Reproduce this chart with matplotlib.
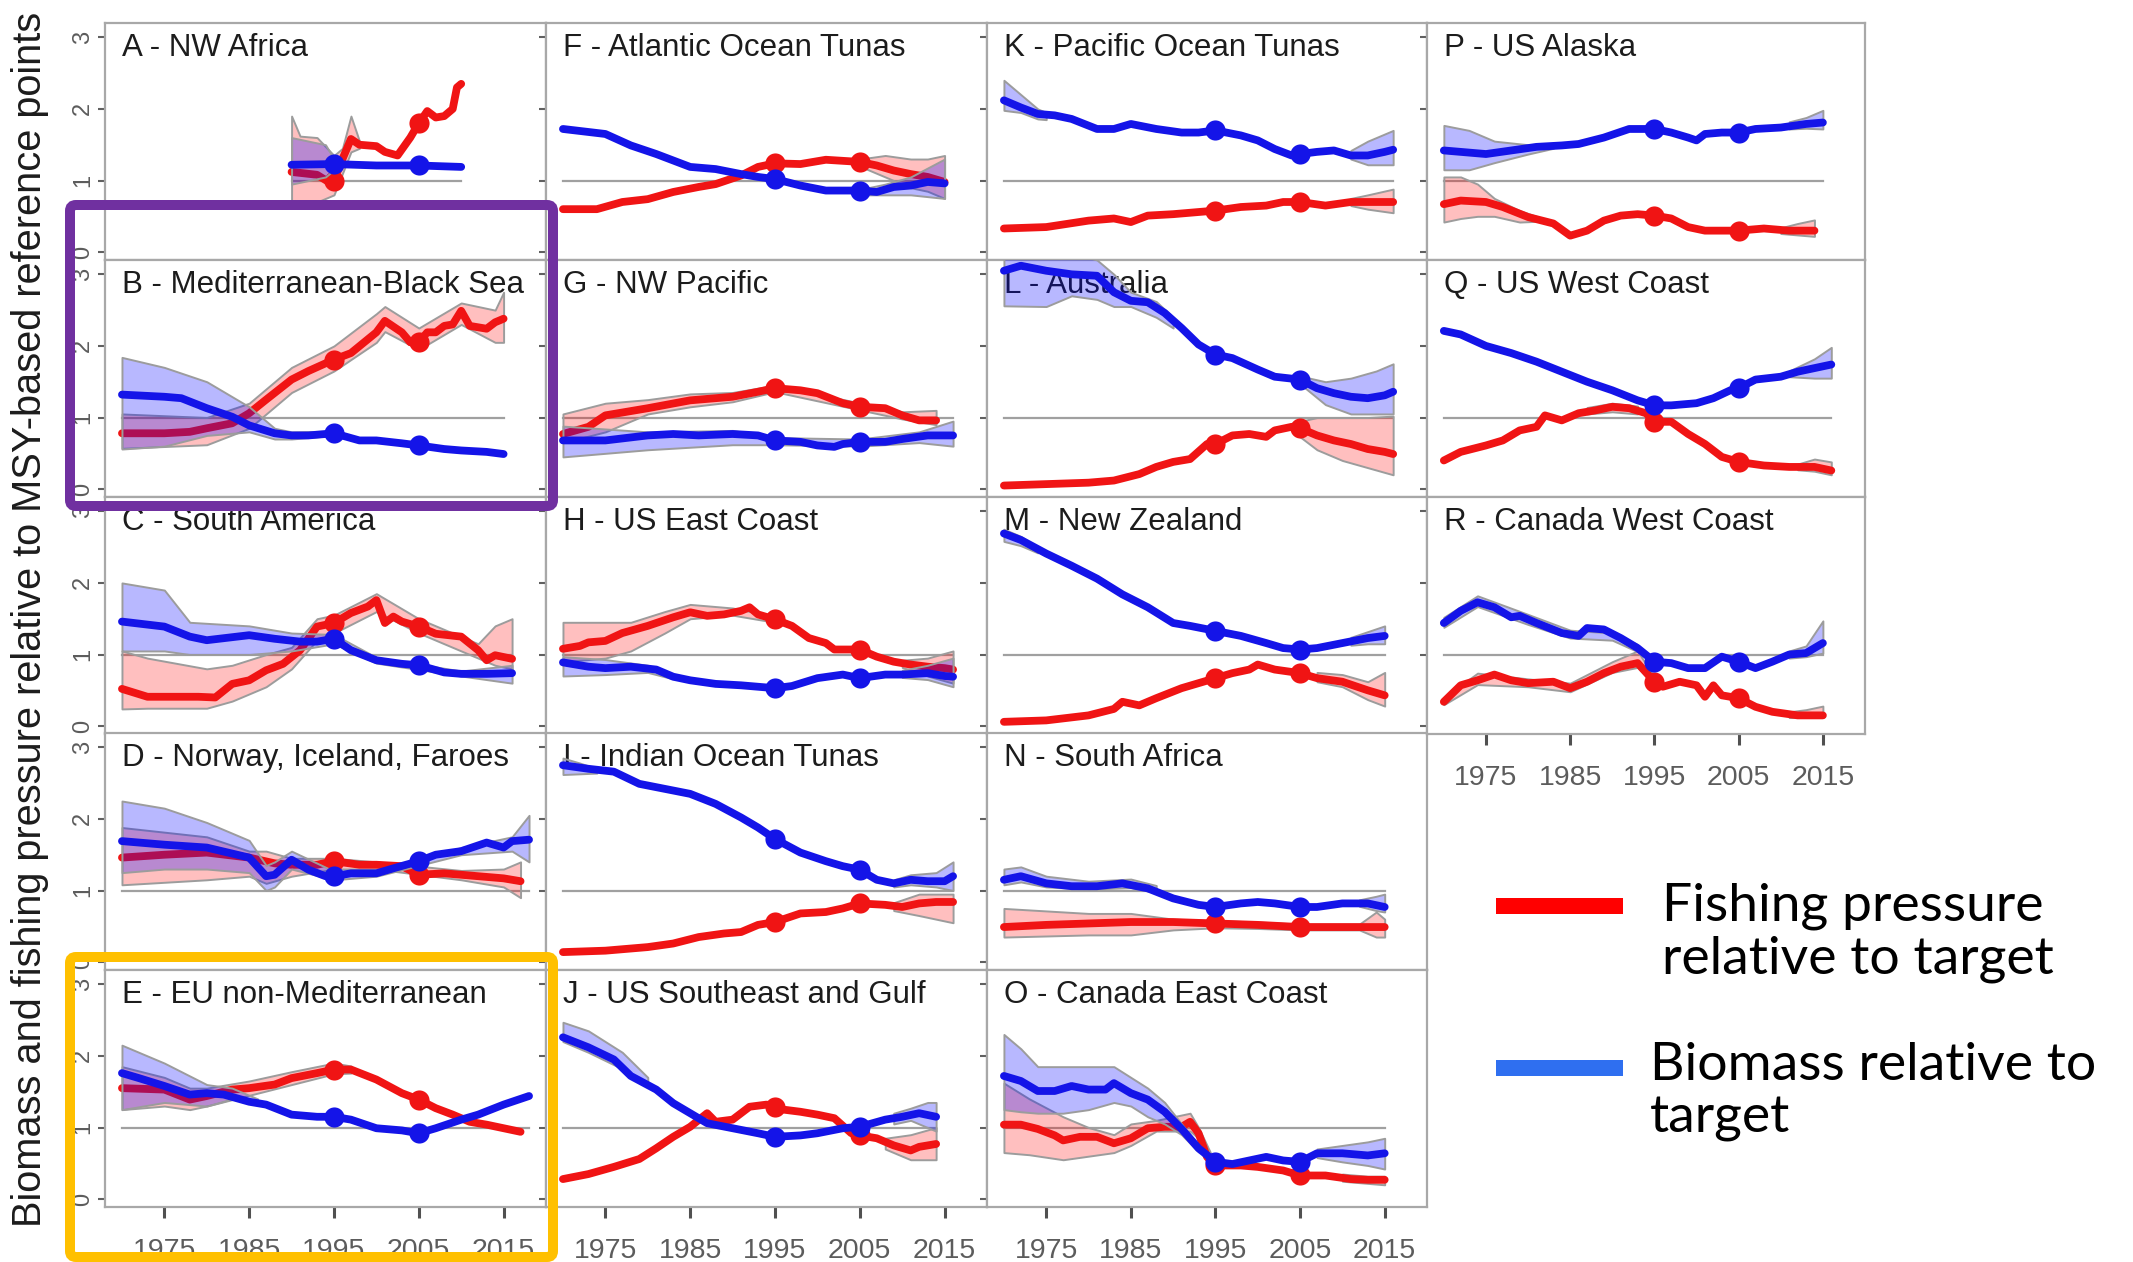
import matplotlib
matplotlib.use("Agg")
import matplotlib.pyplot as plt
from matplotlib.patches import FancyBboxPatch
from matplotlib.lines import Line2D

W, H = 2133, 1262
DPI = 100

RED = "#f01414"
BLUE = "#1414e8"
RED_FILL = (1.0, 0.0, 0.0, 0.25)
BLUE_FILL = (0.0, 0.0, 1.0, 0.28)
BAND_EDGE = "#9c9c9c"
FRAME = "#a8a8a8"
TEXT = "#1c1c1c"
TICK_TEXT = "#5c5c5c"

X_TICKS = [1975, 1985, 1995, 2005, 2015]
X_LABELS = ["1975", "1985", "1995", "2005", "2015"]
Y_TICKS = [0, 1, 2, 3]
Y_LABELS = ["0", "1", "2", "3"]
MARK_YEARS = [1995, 2005]

Y_TITLE = "Biomass and fishing pressure relative to MSY-based reference points"
LEGEND_F = ["Fishing pressure", "relative to target"]
LEGEND_B = ["Biomass relative to", "target"]

# ---- A - NW Africa
A_F_YR = [1990, 1993, 1994.5, 1995, 1996, 1997, 1998, 2000, 2001, 2002.5, 2004, 2005, 2006, 2007, 2008, 2009, 2009.5, 2010]
A_F = [1.12, 1.08, 0.97, 1.0, 1.3, 1.58, 1.5, 1.48, 1.4, 1.35, 1.6, 1.8, 1.97, 1.88, 1.9, 2.0, 2.3, 2.35]
A_B_YR = [1990, 1995, 2000, 2005, 2010]
A_B = [1.22, 1.23, 1.21, 1.21, 1.19]
A_F_CI = [([1990, 1991, 1993, 1995, 1996, 1997, 1998],
           [0.62, 0.65, 0.7, 0.8, 1.1, 1.4, 1.45],
           [1.9, 1.62, 1.6, 1.35, 1.45, 1.9, 1.55])]
A_B_CI = [([1990, 1992, 1994, 1995, 1996],
           [0.95, 1.0, 1.05, 1.15, 1.2],
           [1.6, 1.55, 1.5, 1.3, 1.24])]

# ---- B - Mediterranean-Black Sea
B_F_YR = [1970, 1975, 1978, 1980, 1983, 1985, 1987, 1990, 1992, 1995, 1997, 2000, 2001, 2003, 2004, 2005, 2006, 2007, 2008, 2009, 2010, 2011, 2012, 2013, 2014, 2015]
B_F = [0.78, 0.78, 0.8, 0.85, 0.92, 1.06, 1.25, 1.53, 1.65, 1.81, 1.9, 2.19, 2.35, 2.19, 2.05, 2.05, 2.19, 2.19, 2.28, 2.3, 2.49, 2.28, 2.26, 2.24, 2.33, 2.38]
B_B_YR = [1970, 1975, 1977, 1980, 1983, 1985, 1988, 1990, 1992, 1995, 1998, 2000, 2003, 2005, 2008, 2010, 2013, 2015]
B_B = [1.32, 1.29, 1.27, 1.13, 1.01, 0.89, 0.78, 0.75, 0.75, 0.78, 0.68, 0.68, 0.64, 0.61, 0.56, 0.54, 0.52, 0.49]
B_F_CI = [([1970, 1980, 1985, 1990, 1995, 2000, 2001, 2005, 2010, 2014, 2015],
           [0.57, 0.62, 0.85, 1.35, 1.65, 2.05, 2.2, 1.95, 2.3, 2.05, 2.05],
           [1.05, 1.0, 1.2, 1.7, 2.0, 2.45, 2.55, 2.25, 2.6, 2.5, 2.75])]
B_B_CI = [([1970, 1975, 1980, 1985, 1988, 1990, 1995],
           [0.56, 0.6, 0.75, 0.8, 0.7, 0.7, 0.75],
           [1.84, 1.7, 1.5, 1.15, 0.85, 0.8, 0.81])]

# ---- C - South America
C_F_YR = [1970, 1973, 1976, 1979, 1981, 1983, 1985, 1987, 1989, 1991, 1993, 1995, 1997, 1999, 2000, 2001, 2002, 2003, 2005, 2007, 2010, 2012, 2013, 2014, 2016]
C_F = [0.52, 0.41, 0.41, 0.41, 0.4, 0.59, 0.64, 0.78, 0.87, 1.06, 1.39, 1.44, 1.58, 1.67, 1.76, 1.44, 1.53, 1.46, 1.39, 1.29, 1.25, 1.06, 0.92, 0.99, 0.94]
C_B_YR = [1970, 1975, 1978, 1980, 1985, 1988, 1991, 1993, 1995, 1997, 2000, 2003, 2005, 2008, 2010, 2013, 2016]
C_B = [1.46, 1.39, 1.25, 1.2, 1.27, 1.22, 1.18, 1.18, 1.22, 1.06, 0.92, 0.87, 0.85, 0.75, 0.73, 0.73, 0.74]
C_F_CI = [([1970, 1973, 1980, 1983, 1987, 1990, 1993, 1995, 2000, 2005, 2012, 2014, 2016],
           [0.24, 0.25, 0.25, 0.35, 0.55, 0.8, 1.2, 1.3, 1.6, 1.3, 0.95, 0.85, 0.8],
           [1.05, 0.95, 0.8, 0.85, 1.0, 1.1, 1.5, 1.55, 1.85, 1.5, 1.15, 1.4, 1.5])]
C_B_CI = [([1970, 1975, 1978, 1985, 1990, 1995, 2000, 2010, 2016],
           [1.05, 1.05, 1.0, 1.0, 1.05, 1.15, 0.88, 0.7, 0.6],
           [2.0, 1.9, 1.45, 1.4, 1.3, 1.28, 0.96, 0.77, 0.85])]

# ---- D - Norway, Iceland, Faroes
D_F_YR = [1970, 1975, 1980, 1985, 1988, 1990, 1993, 1995, 1998, 2000, 2003, 2005, 2008, 2012, 2015, 2017]
D_F = [1.46, 1.5, 1.53, 1.46, 1.38, 1.36, 1.36, 1.41, 1.36, 1.36, 1.34, 1.22, 1.24, 1.2, 1.17, 1.13]
D_B_YR = [1970, 1975, 1980, 1985, 1987, 1988, 1990, 1992, 1994, 1995, 1997, 2000, 2002, 2005, 2007, 2010, 2013, 2015, 2016, 2018]
D_B = [1.69, 1.64, 1.6, 1.46, 1.2, 1.22, 1.43, 1.29, 1.2, 1.2, 1.24, 1.24, 1.31, 1.41, 1.5, 1.55, 1.67, 1.6, 1.69, 1.71]
D_F_CI = [([1970, 1980, 1985, 1987, 1990, 1995, 2000, 2010, 2015, 2017],
           [1.08, 1.15, 1.2, 1.1, 1.2, 1.3, 1.3, 1.15, 1.05, 0.9],
           [1.88, 1.75, 1.55, 1.55, 1.45, 1.45, 1.4, 1.28, 1.3, 1.4])]
D_B_CI = [([1970, 1975, 1980, 1985, 1987, 1988, 1990, 1995, 2000, 2010, 2016, 2018],
           [1.25, 1.3, 1.3, 1.25, 1.0, 1.05, 1.3, 1.15, 1.2, 1.5, 1.55, 1.4],
           [2.25, 2.15, 1.95, 1.7, 1.35, 1.4, 1.55, 1.27, 1.28, 1.6, 1.75, 2.05])]

# ---- E - EU non-Mediterranean
E_F_YR = [1970, 1975, 1978, 1980, 1983, 1985, 1988, 1990, 1993, 1995, 1997, 2000, 2003, 2005, 2007, 2009, 2011, 2013, 2015, 2017]
E_F = [1.55, 1.53, 1.39, 1.44, 1.53, 1.55, 1.6, 1.69, 1.76, 1.81, 1.81, 1.67, 1.48, 1.39, 1.27, 1.18, 1.08, 1.04, 0.99, 0.94]
E_B_YR = [1970, 1972, 1975, 1978, 1980, 1982, 1985, 1987, 1990, 1993, 1995, 1997, 2000, 2003, 2005, 2007, 2010, 2012, 2015, 2018]
E_B = [1.76, 1.69, 1.58, 1.46, 1.48, 1.46, 1.36, 1.32, 1.18, 1.15, 1.15, 1.11, 0.99, 0.96, 0.92, 0.99, 1.11, 1.18, 1.32, 1.44]
E_F_CI = [([1970, 1975, 1978, 1980, 1985, 1990, 1995, 1997],
           [1.25, 1.3, 1.25, 1.3, 1.45, 1.6, 1.75, 1.76],
           [1.85, 1.7, 1.55, 1.55, 1.65, 1.78, 1.9, 1.86])]
E_B_CI = [([1970, 1975, 1980, 1983, 1986],
           [1.25, 1.35, 1.3, 1.4, 1.32],
           [2.15, 1.9, 1.6, 1.55, 1.4])]

# ---- F - Atlantic Ocean Tunas
F_F_YR = [1970, 1974, 1977, 1980, 1983, 1986, 1988, 1991, 1993, 1995, 1998, 2001, 2005, 2007, 2009, 2011, 2013, 2015]
F_F = [0.6, 0.6, 0.7, 0.74, 0.84, 0.91, 0.95, 1.07, 1.19, 1.24, 1.23, 1.29, 1.26, 1.21, 1.14, 1.09, 1.05, 0.98]
F_B_YR = [1970, 1975, 1978, 1981, 1985, 1988, 1991, 1993, 1995, 1998, 2001, 2003, 2005, 2007, 2009, 2011, 2013, 2015]
F_B = [1.72, 1.65, 1.49, 1.37, 1.19, 1.16, 1.09, 1.05, 1.02, 0.93, 0.86, 0.86, 0.86, 0.84, 0.91, 0.93, 0.98, 0.96]
F_F_CI = [([2005, 2008, 2011, 2013, 2015],
           [1.2, 1.05, 0.9, 0.85, 0.75],
           [1.3, 1.35, 1.3, 1.3, 1.35])]
F_B_CI = [([2006, 2008, 2011, 2015],
           [0.8, 0.8, 0.8, 0.75],
           [0.9, 0.95, 1.05, 1.3])]

# ---- G - NW Pacific
G_F_YR = [1970, 1973, 1975, 1980, 1985, 1990, 1993, 1995, 1998, 2000, 2003, 2005, 2008, 2010, 2012, 2014]
G_F = [0.77, 0.87, 1.03, 1.13, 1.24, 1.29, 1.36, 1.41, 1.38, 1.34, 1.2, 1.15, 1.13, 1.03, 0.96, 0.96]
G_B_YR = [1970, 1975, 1980, 1983, 1986, 1990, 1993, 1995, 1998, 2000, 2002, 2003, 2005, 2008, 2010, 2013, 2016]
G_B = [0.68, 0.68, 0.75, 0.77, 0.75, 0.77, 0.75, 0.68, 0.66, 0.61, 0.59, 0.63, 0.66, 0.66, 0.7, 0.75, 0.75]
G_F_CI = [([1970, 1975, 1980, 1985, 1990, 1995, 2010, 2014],
           [0.65, 0.8, 1.05, 1.15, 1.22, 1.36, 0.98, 0.9],
           [1.05, 1.2, 1.25, 1.33, 1.35, 1.45, 1.08, 1.1])]
G_B_CI = [([1970, 1980, 1990, 1995, 2005, 2012, 2016],
           [0.45, 0.55, 0.62, 0.62, 0.6, 0.65, 0.6],
           [0.88, 0.8, 0.82, 0.72, 0.7, 0.8, 0.95])]

# ---- H - US East Coast
H_F_YR = [1970, 1972, 1973, 1975, 1977, 1980, 1983, 1985, 1987, 1989, 1991, 1992, 1993, 1995, 1997, 1999, 2001, 2002, 2004, 2005, 2007, 2009, 2011, 2013, 2015, 2016]
H_F = [1.08, 1.12, 1.17, 1.19, 1.3, 1.4, 1.52, 1.59, 1.54, 1.56, 1.61, 1.66, 1.56, 1.49, 1.4, 1.23, 1.16, 1.07, 1.07, 1.07, 0.97, 0.9, 0.86, 0.83, 0.81, 0.79]
H_B_YR = [1970, 1973, 1975, 1978, 1981, 1983, 1985, 1988, 1991, 1993, 1995, 1997, 2000, 2003, 2005, 2008, 2010, 2013, 2015, 2016]
H_B = [0.89, 0.83, 0.81, 0.83, 0.79, 0.69, 0.64, 0.59, 0.57, 0.55, 0.53, 0.56, 0.67, 0.72, 0.67, 0.72, 0.72, 0.74, 0.7, 0.69]
H_F_CI = [([1970, 1975, 1978, 1982, 1985, 1990, 1995],
           [0.9, 0.95, 1.05, 1.3, 1.5, 1.55, 1.45],
           [1.45, 1.45, 1.45, 1.6, 1.7, 1.65, 1.53]),
          ([2010, 2013, 2016],
           [0.82, 0.7, 0.6],
           [0.92, 0.95, 1.05])]
H_B_CI = [([1970, 1975, 1980, 1983],
           [0.7, 0.72, 0.75, 0.66],
           [0.97, 0.93, 0.85, 0.72]),
          ([2010, 2013, 2016],
           [0.68, 0.65, 0.55],
           [0.78, 0.85, 0.95])]

# ---- I - Indian Ocean Tunas
I_F_YR = [1970, 1975, 1980, 1983, 1986, 1989, 1991, 1993, 1995, 1998, 2001, 2003, 2005, 2008, 2010, 2012, 2014, 2016]
I_F = [0.14, 0.16, 0.21, 0.26, 0.35, 0.4, 0.42, 0.52, 0.56, 0.68, 0.7, 0.75, 0.82, 0.8, 0.77, 0.82, 0.84, 0.84]
I_B_YR = [1970, 1973, 1976, 1979, 1982, 1985, 1988, 1991, 1993, 1995, 1998, 2001, 2003, 2005, 2007, 2009, 2011, 2013, 2015, 2016]
I_B = [2.75, 2.7, 2.66, 2.49, 2.42, 2.35, 2.21, 2.02, 1.88, 1.72, 1.53, 1.41, 1.34, 1.29, 1.15, 1.1, 1.15, 1.13, 1.13, 1.2]
I_F_CI = [([2009, 2012, 2016],
           [0.72, 0.65, 0.55],
           [0.83, 0.95, 0.95])]
I_B_CI = [([1970, 1972, 1974],
           [2.62, 2.63, 2.64],
           [2.85, 2.78, 2.7]),
          ([2009, 2011, 2014, 2016],
           [1.05, 1.08, 1.05, 1.0],
           [1.15, 1.22, 1.25, 1.4])]

# ---- J - US Southeast and Gulf
J_F_YR = [1970, 1973, 1976, 1979, 1981, 1983, 1985, 1987, 1988, 1990, 1992, 1994, 1995, 1996, 1998, 2000, 2002, 2004, 2005, 2007, 2009, 2011, 2012, 2014]
J_F = [0.28, 0.35, 0.45, 0.56, 0.71, 0.87, 1.01, 1.2, 1.08, 1.11, 1.29, 1.32, 1.29, 1.25, 1.22, 1.18, 1.13, 0.92, 0.89, 0.85, 0.75, 0.68, 0.73, 0.77]
J_B_YR = [1970, 1973, 1976, 1978, 1981, 1983, 1985, 1987, 1990, 1993, 1995, 1998, 2000, 2003, 2005, 2008, 2010, 2012, 2014]
J_B = [2.26, 2.12, 1.95, 1.72, 1.53, 1.34, 1.2, 1.06, 0.99, 0.92, 0.87, 0.89, 0.92, 0.99, 1.01, 1.11, 1.15, 1.2, 1.15]
J_F_CI = [([2008, 2011, 2014],
           [0.7, 0.55, 0.55],
           [0.85, 0.9, 1.0])]
J_B_CI = [([1970, 1973, 1977, 1980],
           [2.2, 2.05, 1.82, 1.58],
           [2.47, 2.35, 2.05, 1.7]),
          ([2009, 2011, 2013, 2014],
           [1.05, 1.1, 1.0, 0.95],
           [1.2, 1.27, 1.35, 1.35])]

# ---- K - Pacific Ocean Tunas
K_F_YR = [1970, 1975, 1980, 1983, 1985, 1987, 1990, 1993, 1995, 1998, 2001, 2003, 2005, 2008, 2011, 2013, 2016]
K_F = [0.33, 0.35, 0.44, 0.47, 0.42, 0.51, 0.53, 0.56, 0.58, 0.63, 0.65, 0.7, 0.7, 0.65, 0.7, 0.7, 0.7]
K_B_YR = [1970, 1972, 1974, 1976, 1978, 1981, 1983, 1985, 1988, 1991, 1993, 1995, 1998, 2000, 2002, 2004, 2005, 2007, 2009, 2011, 2013, 2015, 2016]
K_B = [2.12, 2.02, 1.93, 1.91, 1.86, 1.72, 1.72, 1.79, 1.72, 1.67, 1.67, 1.7, 1.63, 1.56, 1.44, 1.35, 1.37, 1.4, 1.42, 1.35, 1.35, 1.4, 1.43]
K_F_CI = [([2011, 2013, 2016],
           [0.65, 0.6, 0.55],
           [0.75, 0.8, 0.88])]
K_B_CI = [([1970, 1972, 1974, 1975],
           [1.98, 1.95, 1.86, 1.85],
           [2.4, 2.2, 2.0, 1.95]),
          ([2011, 2013, 2016],
           [1.3, 1.22, 1.22],
           [1.42, 1.55, 1.7])]

# ---- L - Australia
L_F_YR = [1970, 1975, 1980, 1983, 1986, 1988, 1990, 1992, 1994, 1995, 1997, 1999, 2001, 2002, 2004, 2005, 2007, 2009, 2011, 2013, 2015, 2016]
L_F = [0.05, 0.07, 0.09, 0.12, 0.21, 0.31, 0.38, 0.42, 0.63, 0.63, 0.75, 0.77, 0.73, 0.82, 0.87, 0.85, 0.75, 0.68, 0.63, 0.56, 0.52, 0.49]
L_B_YR = [1970, 1972, 1975, 1978, 1981, 1983, 1985, 1987, 1989, 1991, 1993, 1995, 1997, 2000, 2002, 2005, 2007, 2009, 2011, 2013, 2015, 2016]
L_B = [3.05, 3.12, 3.05, 3.0, 2.98, 2.75, 2.63, 2.61, 2.46, 2.25, 2.02, 1.88, 1.83, 1.67, 1.57, 1.53, 1.41, 1.34, 1.29, 1.27, 1.31, 1.36]
L_F_CI = [([2004, 2007, 2010, 2013, 2016],
           [0.82, 0.55, 0.4, 0.3, 0.2],
           [0.92, 1.0, 1.0, 1.0, 1.02])]
L_B_CI = [([1970, 1975, 1978, 1981, 1983, 1985, 1988, 1990],
           [2.56, 2.55, 2.7, 2.65, 2.55, 2.55, 2.4, 2.25],
           [3.3, 3.3, 3.3, 3.2, 3.0, 2.75, 2.62, 2.4]),
          ([2005, 2008, 2011, 2014, 2016],
           [1.47, 1.18, 1.05, 1.05, 1.05],
           [1.58, 1.5, 1.55, 1.65, 1.75])]

# ---- M - New Zealand
M_F_YR = [1970, 1975, 1980, 1983, 1984, 1986, 1988, 1991, 1993, 1995, 1997, 1999, 2000, 2002, 2005, 2007, 2010, 2013, 2015]
M_F = [0.06, 0.08, 0.15, 0.24, 0.34, 0.29, 0.39, 0.53, 0.6, 0.67, 0.74, 0.79, 0.86, 0.79, 0.74, 0.67, 0.62, 0.5, 0.43]
M_B_YR = [1970, 1972, 1975, 1978, 1981, 1984, 1987, 1990, 1992, 1995, 1998, 2001, 2003, 2005, 2007, 2010, 2013, 2015]
M_B = [2.69, 2.6, 2.41, 2.24, 2.06, 1.84, 1.66, 1.44, 1.4, 1.33, 1.26, 1.16, 1.09, 1.07, 1.09, 1.16, 1.23, 1.26]
M_F_CI = [([2007, 2010, 2013, 2015],
           [0.62, 0.55, 0.37, 0.28],
           [0.75, 0.72, 0.62, 0.75])]
M_B_CI = [([1970, 1972, 1974],
           [2.58, 2.52, 2.42],
           [2.75, 2.65, 2.5]),
          ([2011, 2013, 2015],
           [1.13, 1.15, 1.15],
           [1.24, 1.32, 1.4])]

# ---- N - South Africa
N_F_YR = [1970, 1975, 1980, 1985, 1990, 1995, 2000, 2005, 2010, 2015]
N_F = [0.49, 0.52, 0.54, 0.56, 0.56, 0.54, 0.52, 0.49, 0.49, 0.49]
N_B_YR = [1970, 1972, 1975, 1978, 1981, 1984, 1987, 1990, 1993, 1995, 1998, 2000, 2002, 2005, 2007, 2010, 2013, 2015]
N_B = [1.15, 1.2, 1.1, 1.06, 1.06, 1.1, 1.03, 0.89, 0.8, 0.77, 0.82, 0.84, 0.82, 0.77, 0.77, 0.82, 0.82, 0.77]
N_F_CI = [([1970, 1980, 1985, 1990, 1995, 2000, 2005, 2010, 2012, 2014, 2015],
           [0.35, 0.38, 0.38, 0.45, 0.48, 0.47, 0.45, 0.45, 0.45, 0.35, 0.35],
           [0.75, 0.68, 0.68, 0.6, 0.58, 0.56, 0.53, 0.53, 0.53, 0.7, 0.6])]
N_B_CI = [([1970, 1972, 1975, 1980, 1985, 1988],
           [1.08, 1.12, 1.05, 1.02, 1.04, 0.97],
           [1.3, 1.33, 1.2, 1.13, 1.16, 1.07]),
          ([2012, 2014, 2015],
           [0.78, 0.72, 0.7],
           [0.87, 0.92, 0.95])]

# ---- O - Canada East Coast
O_F_YR = [1970, 1972, 1974, 1976, 1977, 1979, 1981, 1983, 1985, 1987, 1989, 1991, 1992, 1993, 1994, 1995, 1998, 2000, 2003, 2005, 2008, 2011, 2013, 2015]
O_F = [1.04, 1.04, 0.98, 0.89, 0.82, 0.87, 0.87, 0.78, 0.85, 0.99, 1.01, 1.01, 1.08, 0.92, 0.59, 0.47, 0.47, 0.45, 0.4, 0.33, 0.33, 0.28, 0.27, 0.27]
O_B_YR = [1970, 1972, 1974, 1976, 1978, 1980, 1982, 1983, 1985, 1987, 1989, 1991, 1993, 1995, 1997, 1999, 2001, 2003, 2005, 2007, 2010, 2013, 2015]
O_B = [1.72, 1.65, 1.51, 1.51, 1.58, 1.53, 1.53, 1.62, 1.48, 1.39, 1.22, 0.98, 0.71, 0.52, 0.49, 0.54, 0.59, 0.54, 0.52, 0.64, 0.64, 0.61, 0.64]
O_F_CI = [([1970, 1973, 1977, 1980, 1983, 1985, 1988, 1990, 1992, 1993, 1995],
           [0.65, 0.62, 0.55, 0.6, 0.65, 0.75, 0.95, 0.95, 0.95, 0.85, 0.44],
           [1.62, 1.4, 1.15, 1.0, 0.9, 1.05, 1.1, 1.15, 1.2, 1.0, 0.5]),
          ([2010, 2013, 2015],
           [0.25, 0.22, 0.2],
           [0.35, 0.32, 0.32])]
O_B_CI = [([1970, 1972, 1974, 1977, 1980, 1983, 1985, 1987, 1989, 1991, 1993],
           [1.25, 1.22, 1.2, 1.2, 1.25, 1.35, 1.3, 1.15, 1.05, 0.9, 0.66],
           [2.3, 2.1, 1.85, 1.85, 1.85, 1.85, 1.7, 1.55, 1.35, 1.05, 0.75]),
          ([2007, 2010, 2013, 2015],
           [0.58, 0.52, 0.47, 0.42],
           [0.7, 0.75, 0.8, 0.85])]

# ---- P - US Alaska
P_F_YR = [1970, 1972, 1975, 1977, 1980, 1983, 1985, 1987, 1989, 1991, 1993, 1995, 1997, 1999, 2001, 2003, 2005, 2008, 2011, 2014]
P_F = [0.67, 0.72, 0.7, 0.63, 0.49, 0.4, 0.23, 0.3, 0.44, 0.51, 0.53, 0.51, 0.47, 0.35, 0.3, 0.3, 0.3, 0.33, 0.3, 0.3]
P_B_YR = [1970, 1972, 1975, 1978, 1981, 1984, 1986, 1989, 1992, 1995, 1997, 1999, 2000, 2001, 2003, 2005, 2007, 2010, 2013, 2015]
P_B = [1.42, 1.4, 1.37, 1.42, 1.47, 1.49, 1.51, 1.6, 1.72, 1.72, 1.67, 1.6, 1.56, 1.65, 1.67, 1.67, 1.72, 1.74, 1.79, 1.81]
P_F_CI = [([1970, 1972, 1974, 1976, 1979, 1981],
           [0.42, 0.47, 0.5, 0.5, 0.42, 0.43],
           [1.05, 1.05, 0.95, 0.75, 0.58, 0.5]),
          ([2010, 2012, 2014],
           [0.26, 0.24, 0.22],
           [0.34, 0.4, 0.45])]
P_B_CI = [([1970, 1973, 1976, 1980, 1983],
           [1.15, 1.15, 1.25, 1.37, 1.45],
           [1.77, 1.7, 1.55, 1.5, 1.52]),
          ([2011, 2013, 2015],
           [1.72, 1.73, 1.72],
           [1.82, 1.88, 1.98])]

# ---- Q - US West Coast
Q_F_YR = [1970, 1972, 1975, 1977, 1979, 1981, 1982, 1984, 1986, 1988, 1990, 1992, 1994, 1995, 1997, 1999, 2001, 2003, 2005, 2008, 2011, 2014, 2016]
Q_F = [0.4, 0.52, 0.61, 0.68, 0.82, 0.87, 1.03, 0.96, 1.06, 1.1, 1.15, 1.13, 1.06, 0.94, 0.94, 0.77, 0.63, 0.45, 0.38, 0.33, 0.31, 0.31, 0.26]
Q_B_YR = [1970, 1972, 1975, 1978, 1981, 1984, 1987, 1990, 1993, 1995, 1997, 2000, 2002, 2004, 2005, 2007, 2010, 2012, 2014, 2016]
Q_B = [2.21, 2.16, 2.0, 1.9, 1.78, 1.64, 1.5, 1.38, 1.24, 1.17, 1.17, 1.2, 1.27, 1.38, 1.41, 1.53, 1.57, 1.64, 1.69, 1.74]
Q_F_CI = [([1987, 1990, 1993],
           [1.05, 1.08, 1.05],
           [1.14, 1.2, 1.16]),
          ([2012, 2014, 2016],
           [0.27, 0.25, 0.2],
           [0.35, 0.42, 0.38])]
Q_B_CI = [([2011, 2014, 2016],
           [1.57, 1.55, 1.55],
           [1.65, 1.82, 1.98])]

# ---- R - Canada West Coast
R_F_YR = [1970, 1972, 1974, 1976, 1978, 1980, 1983, 1985, 1987, 1989, 1991, 1993, 1995, 1996, 1998, 2000, 2001, 2002, 2003, 2005, 2007, 2009, 2012, 2015]
R_F = [0.34, 0.57, 0.64, 0.72, 0.64, 0.6, 0.62, 0.53, 0.62, 0.74, 0.83, 0.88, 0.62, 0.55, 0.62, 0.57, 0.41, 0.57, 0.43, 0.39, 0.27, 0.2, 0.15, 0.15]
R_B_YR = [1970, 1972, 1974, 1976, 1978, 1979, 1981, 1984, 1986, 1987, 1989, 1991, 1993, 1995, 1997, 1999, 2001, 2003, 2005, 2007, 2009, 2011, 2013, 2015]
R_B = [1.44, 1.61, 1.73, 1.66, 1.52, 1.54, 1.44, 1.3, 1.26, 1.37, 1.35, 1.23, 1.09, 0.9, 0.88, 0.81, 0.81, 0.97, 0.9, 0.81, 0.9, 1.0, 1.02, 1.16]
R_F_CI = [([1970, 1974, 1980, 1985, 1990, 1993, 1995],
           [0.3, 0.58, 0.55, 0.48, 0.75, 0.82, 0.58],
           [0.4, 0.74, 0.66, 0.6, 0.9, 1.05, 0.68]),
          ([2011, 2013, 2015],
           [0.12, 0.12, 0.12],
           [0.2, 0.23, 0.28])]
R_B_CI = [([1970, 1974, 1980, 1985, 1990, 1993],
           [1.38, 1.67, 1.42, 1.23, 1.2, 1.04],
           [1.52, 1.82, 1.56, 1.34, 1.3, 1.14]),
          ([2011, 2013, 2015],
           [0.95, 0.97, 1.02],
           [1.05, 1.12, 1.47])]

PANELS = {
    "A": ("A - NW Africa", A_F_YR, A_F, A_B_YR, A_B, A_F_CI, A_B_CI),
    "B": ("B - Mediterranean-Black Sea", B_F_YR, B_F, B_B_YR, B_B, B_F_CI, B_B_CI),
    "C": ("C - South America", C_F_YR, C_F, C_B_YR, C_B, C_F_CI, C_B_CI),
    "D": ("D - Norway, Iceland, Faroes", D_F_YR, D_F, D_B_YR, D_B, D_F_CI, D_B_CI),
    "E": ("E - EU non-Mediterranean", E_F_YR, E_F, E_B_YR, E_B, E_F_CI, E_B_CI),
    "F": ("F - Atlantic Ocean Tunas", F_F_YR, F_F, F_B_YR, F_B, F_F_CI, F_B_CI),
    "G": ("G - NW Pacific", G_F_YR, G_F, G_B_YR, G_B, G_F_CI, G_B_CI),
    "H": ("H - US East Coast", H_F_YR, H_F, H_B_YR, H_B, H_F_CI, H_B_CI),
    "I": ("I - Indian Ocean Tunas", I_F_YR, I_F, I_B_YR, I_B, I_F_CI, I_B_CI),
    "J": ("J - US Southeast and Gulf", J_F_YR, J_F, J_B_YR, J_B, J_F_CI, J_B_CI),
    "K": ("K - Pacific Ocean Tunas", K_F_YR, K_F, K_B_YR, K_B, K_F_CI, K_B_CI),
    "L": ("L - Australia", L_F_YR, L_F, L_B_YR, L_B, L_F_CI, L_B_CI),
    "M": ("M - New Zealand", M_F_YR, M_F, M_B_YR, M_B, M_F_CI, M_B_CI),
    "N": ("N - South Africa", N_F_YR, N_F, N_B_YR, N_B, N_F_CI, N_B_CI),
    "O": ("O - Canada East Coast", O_F_YR, O_F, O_B_YR, O_B, O_F_CI, O_B_CI),
    "P": ("P - US Alaska", P_F_YR, P_F, P_B_YR, P_B, P_F_CI, P_B_CI),
    "Q": ("Q - US West Coast", Q_F_YR, Q_F, Q_B_YR, Q_B, Q_F_CI, Q_B_CI),
    "R": ("R - Canada West Coast", R_F_YR, R_F, R_B_YR, R_B, R_F_CI, R_B_CI),
}
COLUMNS = [["A", "B", "C", "D", "E"], ["F", "G", "H", "I", "J"],
           ["K", "L", "M", "N", "O"], ["P", "Q", "R"]]

# panel grid in pixels
COL_X = [105, 546, 987, 1427]
COL_W = [441, 441, 440, 438]
ROW_Y = [23, 260, 497, 733, 970]
ROW_H = 237

fig = plt.figure(figsize=(W / DPI, H / DPI), dpi=DPI)
fig.patch.set_facecolor("white")


def px_axes(x, y, w, h):
    return fig.add_axes([x / W, 1 - (y + h) / H, w / W, h / H])


def draw_series(ax, yr, val, bands, line_color, fill_color, z):
    for byr, lo, hi in bands:
        ax.fill_between(byr, lo, hi, facecolor=fill_color, edgecolor=BAND_EDGE,
                        linewidth=1.4, zorder=z)
    ax.plot(yr, val, color=line_color, lw=5.6, solid_joinstyle="round",
            solid_capstyle="round", zorder=z + 0.1)
    my = [y for y in MARK_YEARS if y in yr]
    mv = [val[yr.index(y)] for y in my]
    ax.plot(my, mv, "o", color=line_color, ms=14.5, mew=0, zorder=z + 0.2)


for col, keys in enumerate(COLUMNS):
    for row, key in enumerate(keys):
        title, fyr, fv, byr, bv, fci, bci = PANELS[key]
        ax = px_axes(COL_X[col], ROW_Y[row], COL_W[col], ROW_H)
        ax.set_xlim(1968, 2020)
        ax.set_ylim(-0.11, 3.2)
        yrs = fyr + byr
        ax.plot([min(yrs), max(yrs)], [1, 1], color="#a0a0a0", lw=1.6, zorder=1)
        draw_series(ax, fyr, fv, fci, RED, RED_FILL, 2)
        draw_series(ax, byr, bv, bci, BLUE, BLUE_FILL, 3)
        ax.text(17 / COL_W[col], 1 - 10 / ROW_H, title, transform=ax.transAxes,
                ha="left", va="top", fontsize=22.5, family="Liberation Sans",
                color=TEXT, zorder=0.5)
        for s in ax.spines.values():
            s.set_color(FRAME)
            s.set_linewidth(1.6)
        ax.set_yticks(Y_TICKS)
        ax.tick_params(axis="y", length=5, width=1.5, color="#606060",
                       direction="out", pad=3)
        if col == 0:
            ax.set_yticklabels(Y_LABELS, rotation=90, va="center",
                               fontsize=17, color=TICK_TEXT, family="Liberation Sans")
        else:
            ax.set_yticklabels([])
        if row == len(keys) - 1:
            ax.set_xticks(X_TICKS)
            ax.set_xticklabels(X_LABELS, fontsize=20.5, color=TICK_TEXT,
                               family="Liberation Sans")
            ax.tick_params(axis="x", length=8, width=2.2, color="#505050",
                           direction="out", pad=14)
        else:
            ax.set_xticks([])

fig.text(30 / W, 1 - 619 / H, Y_TITLE, rotation=90, ha="center", va="center",
         fontsize=28.6, family="Liberation Sans", color=TEXT)


def frame_box(x0, y0, x1, y1, color, lw_px):
    box = FancyBboxPatch((x0 / DPI, (H - y1) / DPI), (x1 - x0) / DPI, (y1 - y0) / DPI,
                         boxstyle="round,pad=0,rounding_size=0.06",
                         transform=fig.dpi_scale_trans, facecolor="none",
                         edgecolor=color, linewidth=lw_px * 72 / DPI, zorder=20)
    fig.add_artist(box)


frame_box(70, 205, 553, 506, "#7030a0", 10)
frame_box(70, 957, 553, 1257, "#ffc000", 10)


def legend_bar(y, color):
    fig.add_artist(Line2D([1496 / DPI, 1623 / DPI], [(H - y) / DPI] * 2,
                          transform=fig.dpi_scale_trans, color=color,
                          lw=16 * 72 / DPI, solid_capstyle="butt", zorder=20))


legend_bar(906, "#ff0000")
legend_bar(1068, "#2f6ff0")
for i, line in enumerate(LEGEND_F):
    fig.text(1662 / W, 1 - (906 + 53 * i) / H, line, ha="left", va="center",
             fontsize=38.5, family="Lato", color="black")
for i, line in enumerate(LEGEND_B):
    fig.text(1650 / W, 1 - (1066 + 52 * i) / H, line, ha="left", va="center",
             fontsize=38.5, family="Lato", color="black")

fig.savefig("out.png", dpi=DPI, facecolor="white")
